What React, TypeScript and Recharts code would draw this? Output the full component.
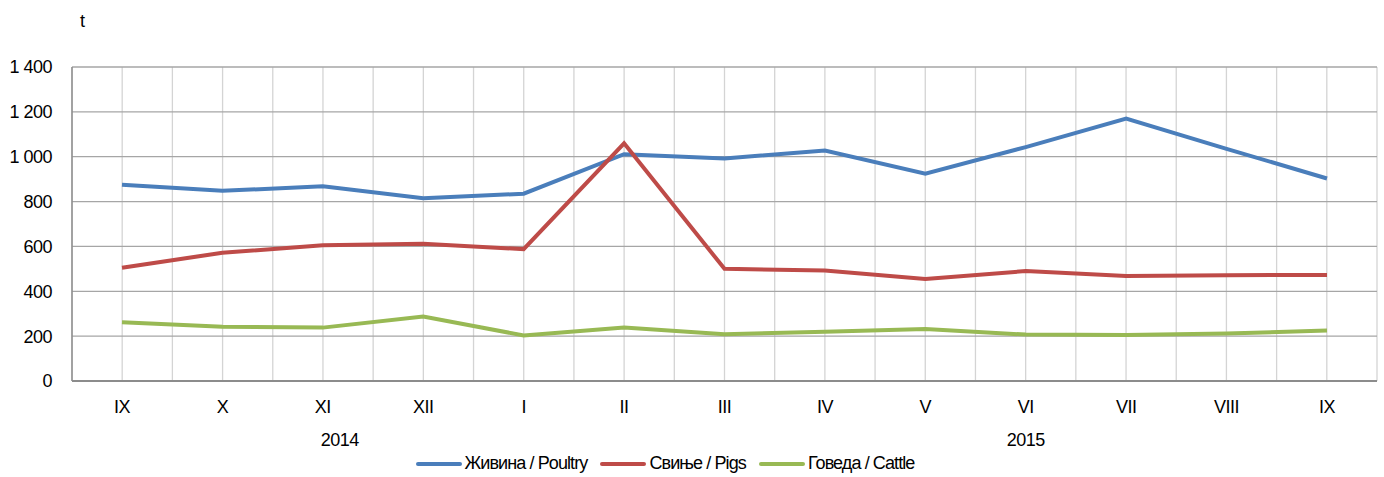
import { LineChart, Line, XAxis, YAxis, CartesianGrid, Legend } from 'recharts'

const months = ['IX', 'X', 'XI', 'XII', 'I', 'II', 'III', 'IV', 'V', 'VI', 'VII', 'VIII', 'IX']
const poultry = [875, 848, 868, 815, 835, 1011, 992, 1028, 924, 1043, 1170, 1035, 903]
const pigs = [505, 572, 605, 612, 588, 1060, 500, 493, 455, 490, 468, 472, 473]
const cattle = [262, 242, 238, 287, 203, 238, 208, 220, 232, 207, 205, 212, 225]
const years = [
  { label: '2014', under: 2 },
  { label: '2015', under: 9 }
]
const yTicks = [0, 200, 400, 600, 800, 1000, 1200, 1400]
const seriesOrder = ['Живина / Poultry', 'Свиње / Pigs', 'Говеда / Cattle']

const data = months.map((m, i) => ({
  m,
  poultry: poultry[i],
  pigs: pigs[i],
  cattle: cattle[i]
}))

const FONT = '"Liberation Sans", Arial, sans-serif'
const yearShift: Record<string, number> = { '2014': 17, '2015': 0 }

const fmt = (v: number) => String(v).replace(/\B(?=(\d{3})+(?!\d))/g, ' ')

const MonthTick = (props: any) => {
  const { x, y, payload, index } = props
  const year = years.find(yr => yr.under === index)
  return (
    <g>
      <text x={x} y={y + 30} textAnchor="middle" fontSize={18} letterSpacing={-0.5} fill="#000" fontFamily={FONT}>
        {payload.value}
      </text>
      {year && (
        <text x={x + yearShift[year.label]} y={y + 63} textAnchor="middle" fontSize={18} letterSpacing={-0.5} fill="#000" fontFamily={FONT}>
          {year.label}
        </text>
      )}
    </g>
  )
}

const LegendBox = (props: any) => {
  const items = [...(props.payload || [])].sort(
    (a: any, b: any) => seriesOrder.indexOf(a.value) - seriesOrder.indexOf(b.value)
  )
  return (
    <div style={{ display: 'flex', alignItems: 'center', justifyContent: 'center', fontFamily: FONT, fontSize: 18, letterSpacing: -0.9, color: '#000' }}>
      {items.map((it: any, i: number) => (
        <div key={it.value} style={{ display: 'flex', alignItems: 'center', marginLeft: i ? 13 : 0 }}>
          <svg width={46} height={6} style={{ marginRight: 3 }}>
            <line x1={2} y1={3} x2={44} y2={3} stroke={it.color} strokeWidth={4} strokeLinecap="round" />
          </svg>
          <span>{it.value}</span>
        </div>
      ))}
    </div>
  )
}

const App = () => {
  return (
    <div style={{ position: 'absolute', left: 0, top: 0, width: 1384, height: 477, background: '#fff' }}>
      <LineChart width={1384} height={477} data={data} margin={{ top: 67, right: 7, left: 0, bottom: 36 }}>
        <CartesianGrid
          horizontal={false}
          stroke="#d4d4d4"
          strokeWidth={1.3}
          verticalCoordinatesGenerator={({ offset }: any) =>
            Array.from({ length: 27 }, (_, i) => offset.left + (i * offset.width) / 26)
          }
        />
        <CartesianGrid vertical={false} stroke="#a6a6a6" strokeWidth={1.3} />
        <XAxis
          dataKey="m"
          height={60}
          padding={{ left: 50, right: 50 }}
          axisLine={{ stroke: '#8c8c8c', strokeWidth: 2 }}
          tickLine={false}
          tickSize={0}
          interval={0}
          tick={<MonthTick />}
        />
        <YAxis
          width={72}
          domain={[0, 1400]}
          ticks={yTicks}
          tickFormatter={fmt}
          axisLine={{ stroke: '#8c8c8c', strokeWidth: 1.5 }}
          tickLine={false}
          tickSize={0}
          tickMargin={20}
          tick={{ fontSize: 18, letterSpacing: -0.5, fill: '#000', fontFamily: FONT }}
          label={({ viewBox }: any) => (
            <text x={viewBox.x + viewBox.width + 8} y={viewBox.y - 40} fontSize={18} fill="#000" fontFamily={FONT}>
              t
            </text>
          )}
        />
        <Legend
          layout="horizontal"
          verticalAlign="middle"
          align="center"
          itemSorter={null}
          content={<LegendBox />}
          wrapperStyle={{ top: 453, left: 0, width: 1330 }}
        />
        <Line type="linear" dataKey="poultry" name="Живина / Poultry" stroke="#4a7ebb" strokeWidth={4} dot={false} isAnimationActive={false} />
        <Line type="linear" dataKey="pigs" name="Свиње / Pigs" stroke="#be4b48" strokeWidth={4} dot={false} isAnimationActive={false} />
        <Line type="linear" dataKey="cattle" name="Говеда / Cattle" stroke="#98b954" strokeWidth={4} dot={false} isAnimationActive={false} />
      </LineChart>
    </div>
  )
}

export default App
